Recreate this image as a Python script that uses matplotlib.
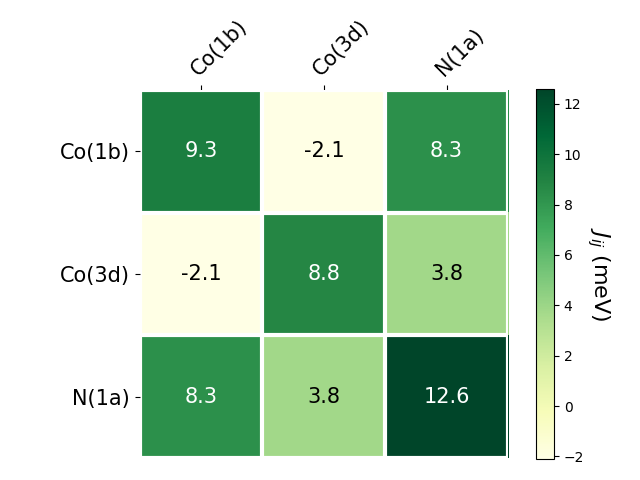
import numpy as np
import matplotlib
matplotlib.use("Agg")
import matplotlib.pyplot as plt

sites = ["Co(1b)", "Co(3d)", "N(1a)"]
jij = np.array([[9.3, -2.1, 8.3],
                [-2.1, 8.8, 3.8],
                [8.3, 3.8, 12.6]])

fig = plt.figure(figsize=(6.4, 4.8), dpi=100)
ax = fig.add_axes([0.2175, 0.0458, 0.577, 0.767])
cax = fig.add_axes([0.8375, 0.044, 0.028, 0.771])

im = ax.imshow(jij, cmap="YlGn", vmin=jij.min(), vmax=jij.max())
cbar = fig.colorbar(im, cax=cax)
cbar.set_label(r"$J_{ij}$ (meV)", rotation=270, labelpad=20, fontsize=16)

ax.set_xticks(np.arange(len(sites)))
ax.set_yticks(np.arange(len(sites)))
ax.set_xticklabels(sites, fontsize=15)
ax.set_yticklabels(sites, fontsize=15)
ax.tick_params(top=True, bottom=False, labeltop=True, labelbottom=False)
plt.setp(ax.get_xticklabels(), rotation=45, ha="left", rotation_mode="anchor")

for s in ax.spines.values():
    s.set_visible(False)

ax.set_xticks(np.arange(len(sites) + 1) - 0.5, minor=True)
ax.set_yticks(np.arange(len(sites) + 1) - 0.5, minor=True)
ax.grid(which="minor", color="w", linestyle="-", linewidth=3)
ax.tick_params(which="minor", bottom=False, left=False, top=False)

thresh = 6
for i in range(len(sites)):
    for j in range(len(sites)):
        v = jij[i, j]
        ax.text(j, i, f"{v:.1f}", ha="center", va="center", fontsize=15,
                color="white" if v > thresh else "black")

fig.savefig("out.png", dpi=100)
